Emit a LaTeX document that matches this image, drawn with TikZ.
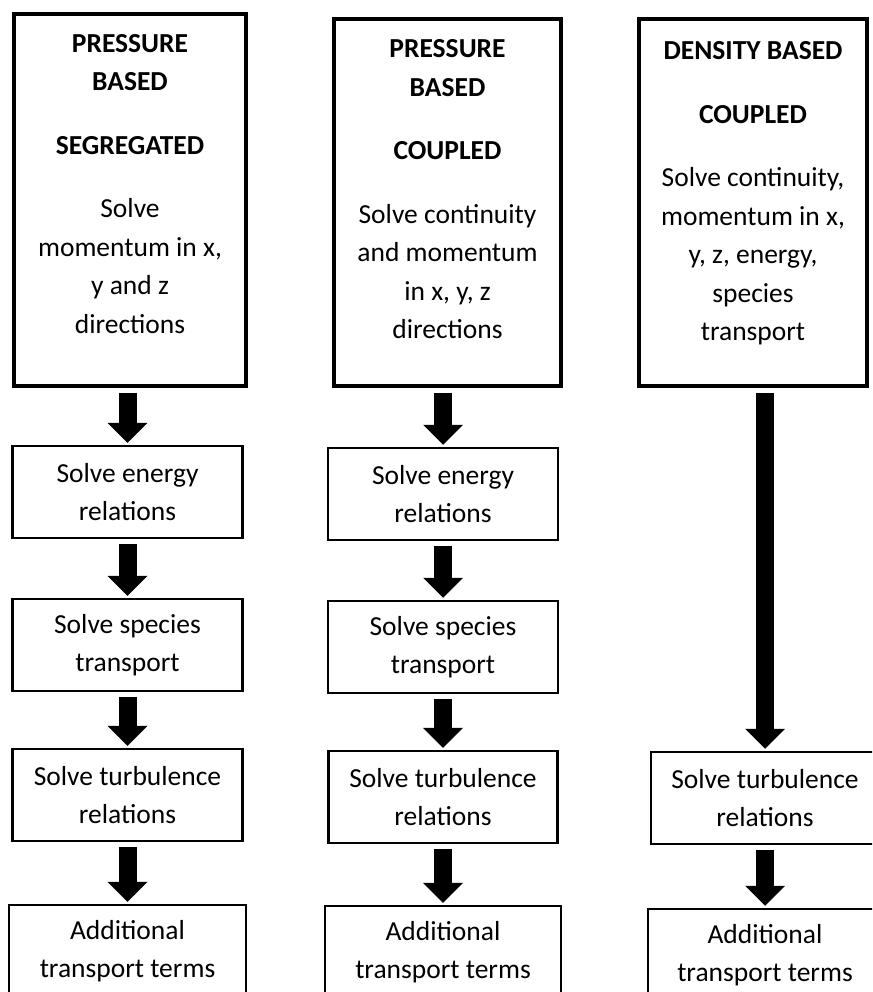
\documentclass[tikz,border=0pt]{standalone}
\usepackage{fontspec}
\setmainfont{Carlito}
\usetikzlibrary{arrows.meta, positioning}

\tikzset{
  topbox/.style={draw, line width=4pt, inner sep=0pt},
  toptext/.style={align=center, inner sep=0pt},
  stepbox/.style={draw, line width=2.5pt, minimum height=92pt, align=center, inner sep=0pt},
  blk/.style={line width=18pt, -{Triangle[width=40pt, length=20pt, line width=0pt]}, shorten <=5pt, shorten >=2pt}
}

\begin{document}
\begin{tikzpicture}[x=1pt, y=-1pt, font=\fontsize{27.5}{38.5}\selectfont]
      \clip (0,0) rectangle (872,992);
      \fill[white] (0,0) rectangle (872,992);

      % pressure based, segregated
      \node[topbox, minimum width=232pt, minimum height=372pt] (seg) at (130,200) {};
      \node[toptext, below=22pt of seg.north] (segtxt) {\textbf{PRESSURE}\\\textbf{BASED}\\[25pt]\textbf{SEGREGATED}\\[25pt]Solve\\momentum in x,\\y and z\\directions};
      \node[stepbox, minimum width=230pt] (segen) at (127.5,492) {Solve energy\\relations};
      \node[stepbox, minimum width=230pt] (segsp) at (127.5,645) {Solve species\\transport};
      \node[stepbox, minimum width=230pt] (segtu) at (127.5,795) {Solve turbulence\\relations};
      \node[stepbox, minimum width=237pt] (segad) at (127.5,951) {Additional\\transport terms};

      \draw[blk] (seg.south -| segen.north) -- (segen.north);
      \draw[blk] (segen) -- (segsp);
      \draw[blk] (segsp) -- (segtu);
      \draw[blk] (segtu) -- (segad);

      % pressure based, coupled
      \node[topbox, minimum width=227pt, minimum height=367pt] (pbc) at (447.5,202.5) {};
      \node[toptext, below=22.5pt of pbc.north] (pbctxt) {\textbf{PRESSURE}\\\textbf{BASED}\\[25pt]\textbf{COUPLED}\\[25pt]Solve continuity\\and momentum\\in x, y, z\\directions};
      \node[stepbox, minimum width=230pt] (pbcen) at (443,494) {Solve energy\\relations};
      \node[stepbox, minimum width=230pt] (pbcsp) at (443,647) {Solve species\\transport};
      \node[stepbox, minimum width=229pt] (pbctu) at (443,797) {Solve turbulence\\relations};
      \node[stepbox, minimum width=236pt] (pbcad) at (443,952) {Additional\\transport terms};

      \draw[blk] (pbc.south -| pbcen.north) -- (pbcen.north);
      \draw[blk] (pbcen) -- (pbcsp);
      \draw[blk] (pbcsp) -- (pbctu);
      \draw[blk] (pbctu) -- (pbcad);

      % density based, coupled
      \node[topbox, minimum width=228pt, minimum height=367pt] (dbc) at (753,202.5) {};
      \node[toptext, below=24.5pt of dbc.north] (dbctxt) {\textbf{DENSITY BASED}\\[25pt]\textbf{COUPLED}\\[25pt]Solve continuity,\\momentum in x,\\y, z, energy,\\species\\transport};
      \node[stepbox, minimum width=228pt] (dbctu) at (765,798) {Solve turbulence\\relations};
      \node[stepbox, minimum width=234pt] (dbcad) at (765,955) {Additional\\transport terms};

      \draw[blk] (dbc.south -| dbctu.north) -- (dbctu.north);
      \draw[blk] (dbctu) -- (dbcad);
\end{tikzpicture}
\end{document}
